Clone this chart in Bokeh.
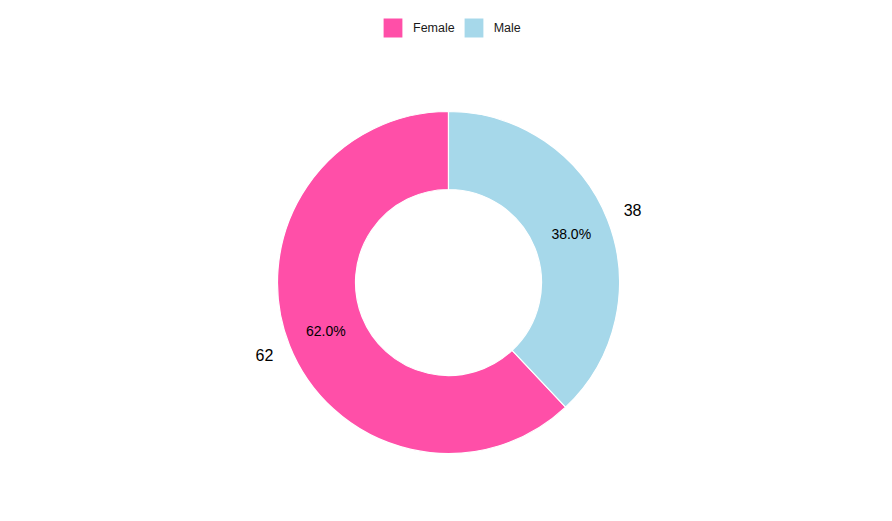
import math
from bokeh.plotting import figure
from bokeh.models import ColumnDataSource, Range1d, Legend, LegendItem
from bokeh.core.properties import value
from bokeh.embed import file_html
from bokeh.resources import INLINE

categories = ["Female", "Male"]
counts = [62, 38]
colors = ["#FF4FA8", "#A6D8EA"]

W, H = 876, 505
cx, cy = 0, 0
r_out, r_in = 171, 93
r_lab = 198

total = sum(counts)
# Male starts at 12 o'clock going clockwise, Female fills the rest
male_frac = counts[1] / total
male_start = math.pi / 2 - 2 * math.pi * male_frac
male_end = math.pi / 2
fem_start = math.pi / 2
fem_end = math.pi / 2 + 2 * math.pi * (counts[0] / total)
starts = [fem_start, male_start]
ends = [fem_end, male_end]
mids = [(s + e) / 2 for s, e in zip(starts, ends)]
pct = [f"{c / total * 100:.1f}%" for c in counts]
r_mid = (r_out + r_in) / 2

src = ColumnDataSource(dict(
    cat=categories, start=starts, end=ends, color=colors,
    px=[cx + r_mid * math.cos(m) for m in mids],
    py=[cy + r_mid * math.sin(m) for m in mids],
    vx=[cx + r_lab * math.cos(m) for m in mids],
    vy=[cy + r_lab * math.sin(m) for m in mids],
    pct=pct, val=[str(c) for c in counts],
))

p = figure(width=W, height=H, output_backend="svg", toolbar_location=None,
           x_range=Range1d(-448, 428), y_range=Range1d(-223, 282),
           min_border=0)
p.axis.visible = False
p.grid.visible = False
p.outline_line_color = None
p.background_fill_color = "white"

wedges = p.annular_wedge(x=cx, y=cy, inner_radius=r_in, outer_radius=r_out,
                         start_angle="start", end_angle="end", fill_color="color",
                         line_color="white", line_width=1.2, source=src)

p.text(x="px", y="py", text="pct", source=src, text_align="center",
       text_baseline="middle", text_font=value("Liberation Sans"),
       text_font_size="14px", text_color="black")
p.text(x="vx", y="vy", text="val", source=src, text_align="center",
       text_baseline="middle", text_font=value("Liberation Sans"),
       text_font_size="16px", text_color="black")

items = [LegendItem(label=c, renderers=[wedges], index=i)
         for i, c in enumerate(categories)]

legend = Legend(items=items, orientation="horizontal", location=(380, 465),
                glyph_width=25, glyph_height=25, label_standoff=8,
                spacing=6, padding=0, margin=0, border_line_color=None,
                background_fill_alpha=0, label_text_font="Liberation Sans",
                label_text_font_size="12.5px", label_height=25,
                label_text_color="#1a1a1a")
p.add_layout(legend, "center")

open("out.html", "w").write(file_html(p, INLINE))
